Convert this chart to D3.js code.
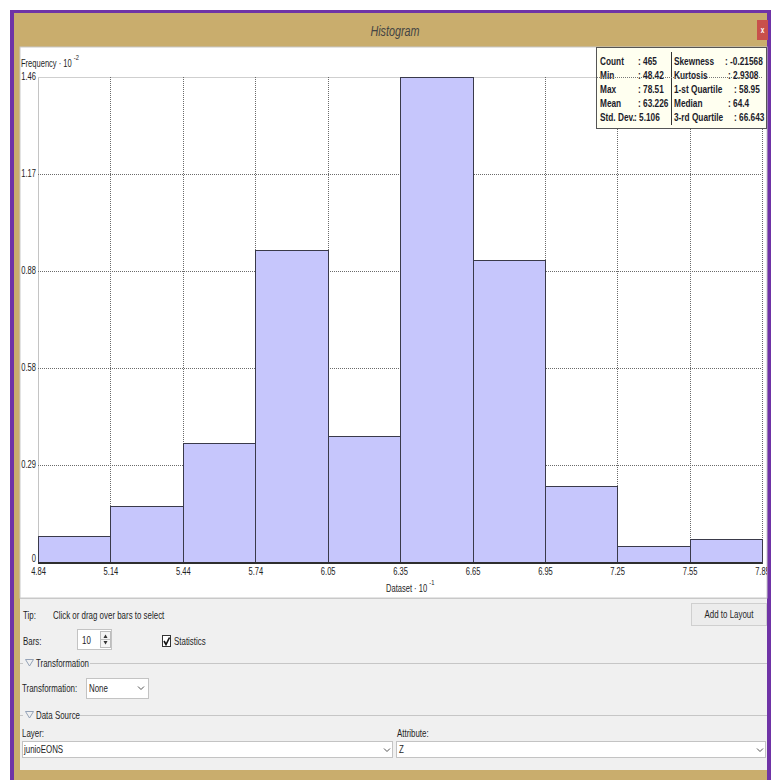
<!DOCTYPE html>
<html>
<head>
<meta charset="utf-8">
<script src="https://cdn.jsdelivr.net/npm/d3@7/dist/d3.min.js"></script>
<style>
  html, body { margin: 0; padding: 0; background: #ffffff; }
  svg { display: block; }
  text { font-family: "Liberation Sans", Arial, sans-serif; fill: #1e1e1e; }
</style>
</head>
<body>
<div id="chart"></div>
<script>
// Histogram of the Z attribute (10 bars), values are counts · 10^-2
const binEdges = [4.842, 5.143, 5.444, 5.745, 6.046, 6.347, 6.648, 6.949, 7.249, 7.550, 7.851];
const xTickLabels = ["4.84", "5.14", "5.44", "5.74", "6.05", "6.35", "6.65", "6.95", "7.25", "7.55", "7.85"];
const frequencies = [0.08, 0.17, 0.36, 0.94, 0.38, 1.46, 0.91, 0.23, 0.05, 0.07];
const yTickValues = [0, 0.292, 0.584, 0.876, 1.168, 1.46];
const yTickLabels = ["0", "0.29", "0.58", "0.88", "1.17", "1.46"];

// Statistics panel
const statsLeftLabels = ["Count", "Min", "Max", "Mean", "Std. Dev."];
const statsLeftValues = [": 465", ": 48.42", ": 78.51", ": 63.226", ": 5.106"];
const statsRightLabels = ["Skewness", "Kurtosis", "1-st Quartile", "Median", "3-rd Quartile"];
const statsRightValues = [": -0.21568", ": 2.9308", ": 58.95", ": 64.4", ": 66.643"];

const W = 771, H = 780;
const SX = 0.72; // condensed UI typeface: horizontal squeeze of every label

// move x/y into a transform so the glyphs can be squeezed around their anchor
function narrow(sel) {
  sel.each(function () {
    const t = d3.select(this);
    const tx = +t.attr("x") || 0, ty = +t.attr("y") || 0;
    const prev = t.attr("transform") || "";
    t.attr("x", 0).attr("y", 0).attr("transform", `${prev} translate(${tx},${ty}) scale(${SX},1)`);
  });
  return sel;
}

const svg = d3.select("#chart").append("svg").attr("width", W).attr("height", H);
const defs = svg.append("defs");
defs.append("clipPath").attr("id", "panelClip").append("rect")
  .attr("x", 20).attr("y", 47).attr("width", 747).attr("height", 551);

// ---- window frame ----
svg.append("rect").attr("x", 0).attr("y", 0).attr("width", W).attr("height", H).attr("fill", "#ffffff");
svg.append("rect").attr("x", 10).attr("y", 10).attr("width", 761).attr("height", 770).attr("fill", "#6f33a6");
svg.append("rect").attr("x", 14).attr("y", 13).attr("width", 753).attr("height", 767).attr("fill", "#c9ad6d");
// title
narrow(svg.append("text").attr("x", 395).attr("y", 36).attr("text-anchor", "middle")
  .style("font-style", "italic").style("font-size", "15px").style("fill", "#444")
  .text("Histogram"));
// close button
svg.append("rect").attr("x", 757).attr("y", 20).attr("width", 11).attr("height", 20).attr("fill", "#c8504b");
narrow(svg.append("text").attr("x", 762.5).attr("y", 33).attr("text-anchor", "middle")
  .style("font-size", "9px").style("font-weight", "bold").style("fill", "#fff").text("x"));

// chart panel
svg.append("rect").attr("x", 20).attr("y", 47).attr("width", 747).attr("height", 551)
  .attr("fill", "#ffffff").attr("stroke", "#c8c8c8").attr("stroke-width", 1);
// controls panel
svg.append("rect").attr("x", 20).attr("y", 598).attr("width", 747).attr("height", 172).attr("fill", "#f0f0f0");
svg.append("line").attr("x1", 20).attr("x2", 767).attr("y1", 598.5).attr("y2", 598.5).attr("stroke", "#c8c8c8");

// ---- plot ----
const x = d3.scaleLinear().domain([binEdges[0], binEdges[binEdges.length - 1]]).range([38, 762]);
const y = d3.scaleLinear().domain([0, 1.46]).range([562.5, 77]);

const plot = svg.append("g").attr("shape-rendering", "crispEdges");

// left axis line
plot.append("line").attr("x1", 38.5).attr("x2", 38.5).attr("y1", y(1.46)).attr("y2", y(0))
  .attr("stroke", "#c4c4c4");
// top frame
plot.append("line").attr("x1", 38).attr("x2", 762).attr("y1", y(1.46) + 0.5).attr("y2", y(1.46) + 0.5)
  .attr("stroke", "#cfcfcf");

// vertical grid lines
plot.selectAll(".vgrid").data(binEdges.slice(1)).enter().append("line")
  .attr("x1", d => Math.round(x(d)) + 0.5).attr("x2", d => Math.round(x(d)) + 0.5)
  .attr("y1", y(1.46)).attr("y2", y(0))
  .attr("stroke", "#6a6a6a").attr("stroke-dasharray", "1,1");
// horizontal grid lines
plot.selectAll(".hgrid").data(yTickValues.slice(1, -1)).enter().append("line")
  .attr("x1", 38).attr("x2", 762)
  .attr("y1", d => Math.round(y(d)) + 0.5).attr("y2", d => Math.round(y(d)) + 0.5)
  .attr("stroke", "#6a6a6a").attr("stroke-dasharray", "1,1");

// bars
const bars = frequencies.map((f, i) => ({ x0: binEdges[i], x1: binEdges[i + 1], f }));
plot.selectAll(".bar").data(bars).enter().append("rect")
  .attr("x", d => Math.round(x(d.x0)) + 0.5)
  .attr("y", d => Math.round(y(d.f)) + 0.5)
  .attr("width", d => Math.round(x(d.x1)) - Math.round(x(d.x0)))
  .attr("height", d => Math.round(y(0)) - Math.round(y(d.f)))
  .attr("fill", "#c6c6fc").attr("stroke", "#3a3a4a").attr("stroke-width", 1);

// baseline
plot.append("line").attr("x1", 38).attr("x2", 762).attr("y1", y(0)).attr("y2", y(0))
  .attr("stroke", "#2e2e2e").attr("stroke-width", 2);

// x axis tick labels
const xAxis = d3.axisBottom(x).tickValues(binEdges).tickFormat((d, i) => xTickLabels[i]).tickSize(0).tickPadding(5);
const xg = svg.append("g").attr("clip-path", "url(#panelClip)")
  .append("g").attr("transform", `translate(0,${y(0)})`).call(xAxis);
xg.select(".domain").remove();
xg.selectAll("text").style("font-size", "10.5px").style("fill", "#222")
  .style("font-family", "'Liberation Sans', Arial, sans-serif");
narrow(xg.selectAll("text"));

// y axis tick labels (the zero label sits a little above the baseline)
const yAxis = d3.axisLeft(y).tickValues(yTickValues).tickFormat((d, i) => yTickLabels[i]).tickSize(0).tickPadding(2);
const yg = svg.append("g").attr("transform", "translate(38,-1)").call(yAxis);
yg.select(".domain").remove();
yg.selectAll("text").style("font-size", "10.5px").style("fill", "#222")
  .style("font-family", "'Liberation Sans', Arial, sans-serif")
  .attr("y", d => d === 0 ? -3 : 0);
narrow(yg.selectAll("text"));

// axis titles
const yt = svg.append("text").attr("x", 21).attr("y", 67).style("font-size", "10.5px");
yt.append("tspan").text("Frequency · 10");
yt.append("tspan").attr("dx", 3).attr("dy", -7).style("font-size", "8px").text("-2");
narrow(yt);
const xt = svg.append("text").attr("x", 386).attr("y", 592).style("font-size", "10.5px");
xt.append("tspan").text("Dataset · 10");
xt.append("tspan").attr("dx", 3).attr("dy", -7).style("font-size", "8px").text("-1");
narrow(xt);

// ---- statistics box ----
const sb = svg.append("g");
sb.append("rect").attr("x", 596.5).attr("y", 47.5).attr("width", 170).attr("height", 81)
  .attr("fill", "#fffff0").attr("stroke", "#555").attr("stroke-width", 1);
sb.append("line").attr("x1", 671.5).attr("x2", 671.5).attr("y1", 52).attr("y2", 125).attr("stroke", "#333");
const rowY = [65, 79, 93, 107, 121];
const statFont = s => narrow(s.style("font-size", "11.5px").style("font-weight", "bold").style("fill", "#1b1b2a"));
statFont(sb.selectAll(".sl").data(statsLeftLabels).enter().append("text")
  .attr("x", 600).attr("y", (d, i) => rowY[i]).text(d => d));
statFont(sb.selectAll(".sv").data(statsLeftValues).enter().append("text")
  .attr("x", (d, i) => i === 4 ? 634 : 638).attr("y", (d, i) => rowY[i]).text(d => d));
statFont(sb.selectAll(".rl").data(statsRightLabels).enter().append("text")
  .attr("x", 674).attr("y", (d, i) => rowY[i]).text(d => d));
const rightValX = [725, 728, 734, 728, 734];
statFont(sb.selectAll(".rv").data(statsRightValues).enter().append("text")
  .attr("x", (d, i) => rightValX[i]).attr("y", (d, i) => rowY[i]).text(d => d));
// top grid line runs over the box
svg.append("line").attr("x1", 597).attr("x2", 762).attr("y1", y(1.46) + 0.5).attr("y2", y(1.46) + 0.5)
  .attr("stroke", "#777").attr("stroke-dasharray", "1,1").attr("shape-rendering", "crispEdges");

// ---- controls ----
const ui = svg.append("g");
const uiText = (xx, yy, t, anchor) => narrow(ui.append("text").attr("x", xx).attr("y", yy)
  .attr("text-anchor", anchor || "start")
  .style("font-size", "11px").style("fill", "#1e1e1e").text(t));

uiText(23, 619, "Tip:");
uiText(53, 619, "Click or drag over bars to select");

// Add to Layout button
ui.append("rect").attr("x", 691.5).attr("y", 603.5).attr("width", 75).attr("height", 22)
  .attr("fill", "#ececec").attr("stroke", "#cfcfcf");
uiText(729, 618, "Add to Layout", "middle");

// Bars spinner
uiText(23, 645, "Bars:");
ui.append("rect").attr("x", 77.5).attr("y", 629.5).attr("width", 34).attr("height", 20)
  .attr("fill", "#fff").attr("stroke", "#c3c3c3");
uiText(82, 644, "10");
ui.append("rect").attr("x", 100.5).attr("y", 631.5).attr("width", 10).attr("height", 16)
  .attr("fill", "#f4f4f4").attr("stroke", "#bdbdbd");
ui.append("line").attr("x1", 101).attr("x2", 110).attr("y1", 639.5).attr("y2", 639.5).attr("stroke", "#bdbdbd");
ui.append("path").attr("d", "M103.5,638 L105.5,634.5 L107.5,638 Z").attr("fill", "#333");
ui.append("path").attr("d", "M103.5,641 L105.5,644.5 L107.5,641 Z").attr("fill", "#333");

// Statistics checkbox
ui.append("rect").attr("x", 162.5).attr("y", 635.5).attr("width", 8).attr("height", 11)
  .attr("fill", "#fff").attr("stroke", "#333");
ui.append("path").attr("d", "M164,641 L166,644.5 L169.5,637.5").attr("fill", "none")
  .attr("stroke", "#111").attr("stroke-width", 1.6);
uiText(174, 645, "Statistics");

// section headers
const section = (yy, label, lineStart) => {
  ui.append("line").attr("x1", 20).attr("x2", 23).attr("y1", yy + 0.5).attr("y2", yy + 0.5).attr("stroke", "#c6c6c6");
  ui.append("path").attr("d", `M25.5,${yy - 3.5} L33.5,${yy - 3.5} L29.5,${yy + 3}Z`)
    .attr("fill", "none").attr("stroke", "#8a9ab0").attr("stroke-width", 0.9);
  uiText(36, yy + 4, label);
  ui.append("line").attr("x1", lineStart).attr("x2", 767).attr("y1", yy + 0.5).attr("y2", yy + 0.5)
    .attr("stroke", "#c6c6c6");
};
section(663, "Transformation", 90);
section(715, "Data Source", 80);

// Transformation dropdown
uiText(22, 692, "Transformation:");
ui.append("rect").attr("x", 86.5).attr("y", 678.5).attr("width", 62).attr("height", 20)
  .attr("fill", "#fff").attr("stroke", "#c3c3c3");
uiText(89, 692, "None");
const chevron = (cx, cy) => ui.append("path")
  .attr("d", `M${cx - 3},${cy - 1.5} L${cx},${cy + 1.5} L${cx + 3},${cy - 1.5}`)
  .attr("fill", "none").attr("stroke", "#555").attr("stroke-width", 1);
chevron(141, 688);

// Data source
uiText(22, 737, "Layer:");
uiText(397, 737, "Attribute:");
ui.append("rect").attr("x", 22.5).attr("y", 741.5).attr("width", 370).attr("height", 16)
  .attr("fill", "#fff").attr("stroke", "#c3c3c3");
uiText(24, 753, "junioEONS");
chevron(387, 750);
ui.append("rect").attr("x", 396.5).attr("y", 741.5).attr("width", 369).attr("height", 16)
  .attr("fill", "#fff").attr("stroke", "#c3c3c3");
uiText(399, 753, "Z");
chevron(760, 750);
</script>
</body>
</html>
